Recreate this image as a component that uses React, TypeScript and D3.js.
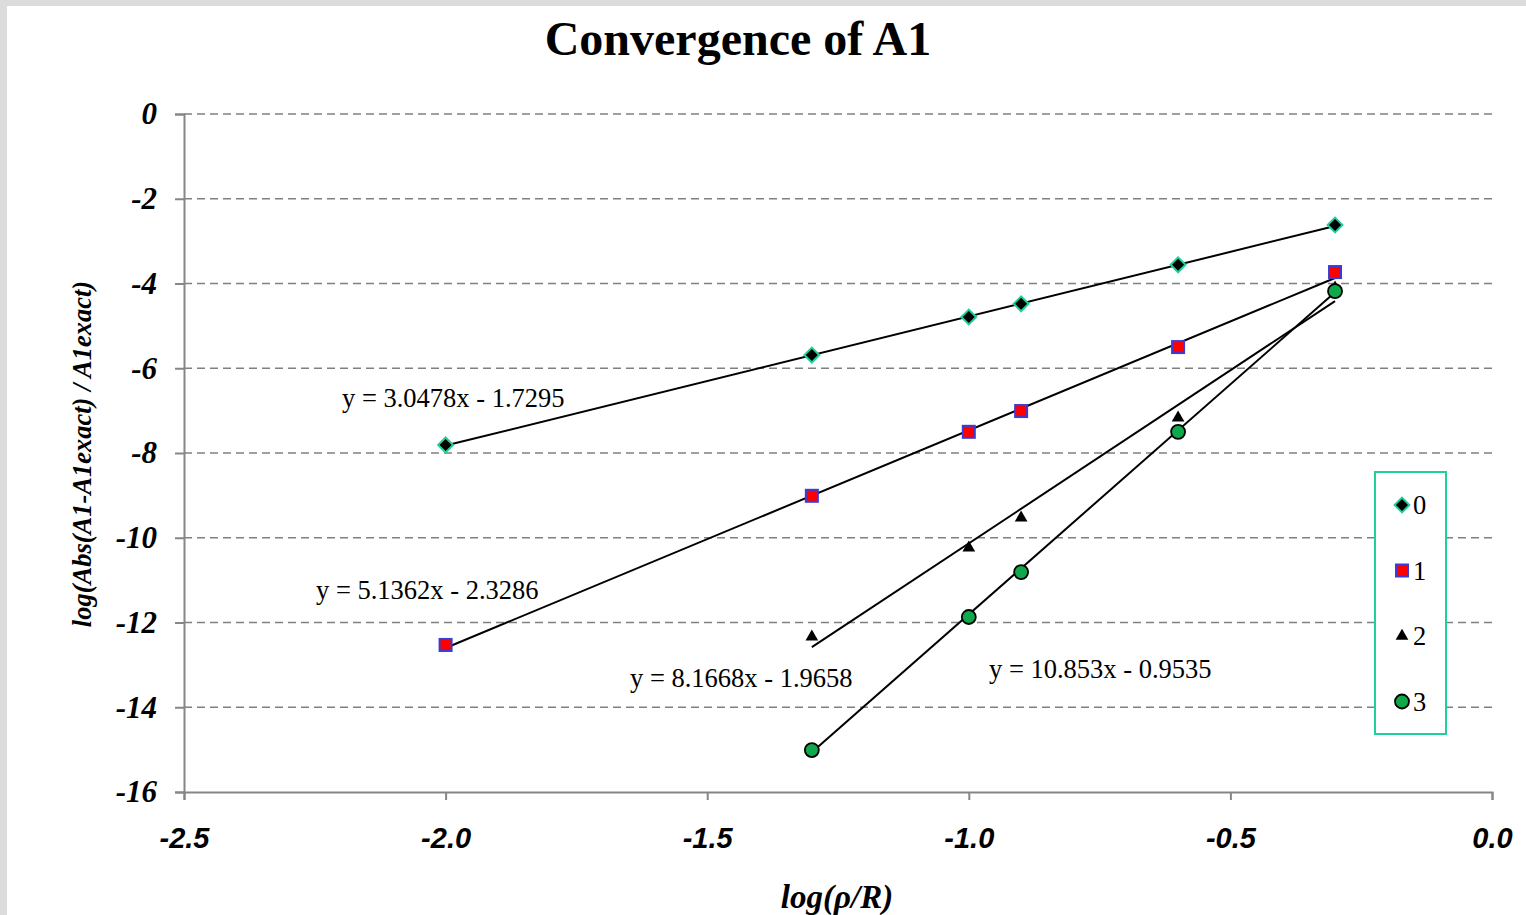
import React, { useEffect, useRef } from "react";
import * as d3 from "d3";

// log(rho/R) values where each series was sampled
const xs0 = [-2.0, -1.3, -1.0, -0.9, -0.6, -0.3];
const xs2 = [-1.3, -1.0, -0.9, -0.6, -0.3];

const series0 = [-7.81, -5.69, -4.79, -4.48, -3.56, -2.62];
const series1 = [-12.53, -9.01, -7.5, -7.01, -5.5, -3.73];
const series2 = [-12.34, -10.24, -9.53, -7.17, -4.1];
const series3 = [-15.01, -11.87, -10.81, -7.5, -4.18];

// trendline coefficients (slope, intercept) as printed on the chart
const fits = [
  { slope: 3.0478, icept: -1.7295, label: "y = 3.0478x - 1.7295" },
  { slope: 5.1362, icept: -2.3286, label: "y = 5.1362x - 2.3286" },
  { slope: 8.1668, icept: -1.9658, label: "y = 8.1668x - 1.9658" },
  { slope: 10.853, icept: -0.9535, label: "y = 10.853x - 0.9535" },
];

const xTicks = [-2.5, -2.0, -1.5, -1.0, -0.5, 0.0];
const yTicks = [0, -2, -4, -6, -8, -10, -12, -14, -16];
const legendNames = ["0", "1", "2", "3"];

const W = 1526;
const H = 915;
const margin = { left: 184, right: 34, top: 114, bottom: 123 };
const serif = "Liberation Serif, Times New Roman, serif";

const App = () => {
  const svgRef = useRef<SVGSVGElement>(null);

  useEffect(() => {
    const svg = d3.select(svgRef.current);
    svg.selectAll("*").remove();

    const x = d3.scaleLinear().domain([-2.5, 0]).range([margin.left, W - margin.right]);
    const y = d3.scaleLinear().domain([-16, 0]).range([H - margin.bottom, margin.top]);

    // frame
    svg.append("rect").attr("width", W).attr("height", H).attr("fill", "#dcdcdc");
    svg.append("rect").attr("x", 7).attr("y", 6).attr("width", W - 7).attr("height", H - 6).attr("fill", "#fff");

    // title
    svg
      .append("text")
      .attr("x", 738)
      .attr("y", 55)
      .attr("text-anchor", "middle")
      .attr("font-family", serif)
      .attr("font-weight", "bold")
      .attr("font-size", 48)
      .text("Convergence of A1");

    // gridlines
    svg
      .append("g")
      .selectAll("line")
      .data(yTicks.filter((d) => d > -16))
      .enter()
      .append("line")
      .attr("x1", x(-2.5))
      .attr("x2", x(0))
      .attr("y1", (d) => y(d))
      .attr("y2", (d) => y(d))
      .attr("stroke", "#808080")
      .attr("stroke-width", 1.5)
      .attr("stroke-dasharray", "8,5");

    // y axis
    const yAxis = d3
      .axisLeft(y)
      .tickValues(yTicks)
      .tickSize(9)
      .tickPadding(18)
      .tickFormat((d) => String(d));
    const gy = svg.append("g").attr("transform", `translate(${margin.left},0)`).call(yAxis);
    gy.selectAll("line, path").attr("stroke", "#868686").attr("stroke-width", 2);
    gy.selectAll("text")
      .attr("font-family", serif)
      .attr("font-weight", "bold")
      .attr("font-style", "italic")
      .attr("font-size", 31)
      .attr("fill", "#000");

    // x axis
    const xAxis = d3
      .axisBottom(x)
      .tickValues(xTicks)
      .tickSize(8)
      .tickPadding(27)
      .tickFormat((d) => (d as number).toFixed(1));
    const gx = svg.append("g").attr("transform", `translate(0,${H - margin.bottom})`).call(xAxis);
    gx.selectAll("line, path").attr("stroke", "#868686").attr("stroke-width", 2);
    gx.selectAll("text")
      .attr("font-family", "Liberation Sans, Arial, sans-serif")
      .attr("font-weight", "bold")
      .attr("font-style", "italic")
      .attr("font-size", 29)
      .attr("fill", "#000");

    // axis titles
    svg
      .append("text")
      .attr("x", 837)
      .attr("y", 908)
      .attr("text-anchor", "middle")
      .attr("font-family", serif)
      .attr("font-weight", "bold")
      .attr("font-style", "italic")
      .attr("font-size", 33)
      .text("log(ρ/R)");

    svg
      .append("text")
      .attr("transform", `translate(91,454) rotate(-90)`)
      .attr("text-anchor", "middle")
      .attr("font-family", serif)
      .attr("font-weight", "bold")
      .attr("font-style", "italic")
      .attr("font-size", 26.5)
      .text("log(Abs(A1-A1exact) / A1exact)");

    // trendlines
    const xsBySeries = [xs0, xs0, xs2, xs2];
    fits.forEach((f, i) => {
      const ext = d3.extent(xsBySeries[i]) as [number, number];
      svg
        .append("path")
        .attr(
          "d",
          d3
            .line<number>()
            .x((d) => x(d))
            .y((d) => y(f.slope * d + f.icept))(ext)
        )
        .attr("stroke", "#000")
        .attr("stroke-width", 2)
        .attr("fill", "none");
    });

    // equation labels
    const labelPos = [
      [342, 407],
      [316, 599],
      [630, 687],
      [989, 678],
    ];
    fits.forEach((f, i) => {
      svg
        .append("text")
        .attr("x", labelPos[i][0])
        .attr("y", labelPos[i][1])
        .attr("font-family", serif)
        .attr("font-size", 26.5)
        .text(f.label);
    });

    const triangle = d3.symbol().type(d3.symbolTriangle).size(70);

    const drawDiamond = (g: any, cx: number, cy: number) =>
      g
        .append("path")
        .attr("d", d3.symbol().type(d3.symbolSquare).size(110)())
        .attr("transform", `translate(${cx},${cy}) rotate(45)`)
        .attr("fill", "#000")
        .attr("stroke", "#1fcf9c")
        .attr("stroke-width", 2);
    const drawSquare = (g: any, cx: number, cy: number) =>
      g
        .append("rect")
        .attr("x", cx - 6)
        .attr("y", cy - 6)
        .attr("width", 12)
        .attr("height", 12)
        .attr("fill", "#ff0000")
        .attr("stroke", "#3b3bd6")
        .attr("stroke-width", 2);
    const drawTriangle = (g: any, cx: number, cy: number) =>
      g
        .append("path")
        .attr("d", triangle())
        .attr("transform", `translate(${cx},${cy})`)
        .attr("fill", "#000");
    const drawCircle = (g: any, cx: number, cy: number) =>
      g
        .append("circle")
        .attr("cx", cx)
        .attr("cy", cy)
        .attr("r", 7)
        .attr("fill", "#0fa84a")
        .attr("stroke", "#000")
        .attr("stroke-width", 1.8);

    const drawers = [drawDiamond, drawSquare, drawTriangle, drawCircle];
    const allSeries = [series0, series1, series2, series3];
    const marks = svg.append("g");
    [2, 0, 1, 3].forEach((si) => {
      allSeries[si].forEach((v, j) => {
        drawers[si](marks, x(xsBySeries[si][j]), y(v));
      });
    });

    // legend
    const lg = svg.append("g");
    lg.append("rect")
      .attr("x", 1375)
      .attr("y", 472)
      .attr("width", 71)
      .attr("height", 262)
      .attr("fill", "#fff")
      .attr("stroke", "#1fcf9c")
      .attr("stroke-width", 2);
    legendNames.forEach((n, i) => {
      const cy = 505 + i * 65.5;
      drawers[i](lg, 1402, cy);
      lg.append("text")
        .attr("x", 1413)
        .attr("y", cy + 9)
        .attr("font-family", serif)
        .attr("font-size", 26.5)
        .text(n);
    });
  }, []);

  return (
    <div style={{ position: "absolute", left: 0, top: 0 }}>
      <svg ref={svgRef} width={W} height={H} style={{ display: "block" }} />
    </div>
  );
};

export default App;
